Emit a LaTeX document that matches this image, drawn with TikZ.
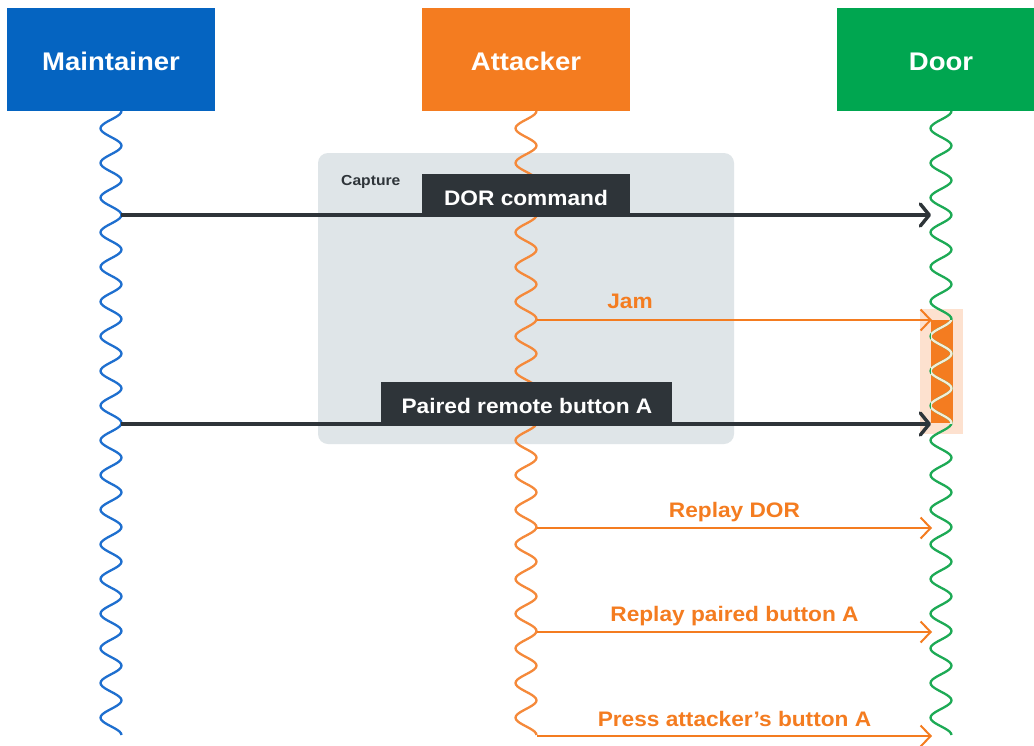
\documentclass[tikz,border=0pt]{standalone}
\usepackage{fontspec}
\setmainfont{Liberation Sans}[FakeStretch=1.08]
\usetikzlibrary{arrows.meta}
\definecolor{mblue}{HTML}{0564C1}
\definecolor{aorange}{HTML}{F47C20}
\definecolor{dgreen}{HTML}{00A650}
\definecolor{wblue}{HTML}{1E6FCF}
\definecolor{worange}{HTML}{F5893A}
\definecolor{wgreen}{HTML}{1DAA55}
\definecolor{capgray}{HTML}{DFE5E8}
\definecolor{darkc}{HTML}{2E3439}
\definecolor{peach}{HTML}{FDE1CF}
\definecolor{cream}{HTML}{F3EEDA}
\newcommand{\lifewave}[1]{plot[variable=\t, domain=111:735, samples=361, smooth] ({#1+10.5*cos((\t-111)*10.3846)},\t)}
\tikzset{
  hdrbox/.style={draw=none, minimum width=208pt, minimum height=103pt, inner sep=0pt},
  hdrtext/.style={text=white, font=\fontsize{25.5}{30}\selectfont\bfseries, inner sep=0pt, anchor=base},
  lifeline/.style={line width=2.3pt},
  tabbox/.style={fill=darkc, draw=none, inner sep=0pt, anchor=south},
  tabtext/.style={text=white, font=\fontsize{21}{25}\selectfont\bfseries, inner sep=0pt, anchor=base},
  lbltext/.style={text=aorange, font=\fontsize{21}{25}\selectfont\bfseries, inner sep=0pt, anchor=base},
  darkarrow/.style={draw=darkc, line width=3.4pt, -{Straight Barb[length=9pt, width=22pt, round]}},
  orangearrow/.style={draw=aorange, line width=2pt, -{Straight Barb[length=10pt, width=21pt]}},
}
\begin{document}
\begin{tikzpicture}[x=1pt, y=-1pt]
\useasboundingbox (0,0) rectangle (1034,745);
\fill[white] (0,0) rectangle (1034,745);
% capture region
\node[fill=capgray, rounded corners=10pt, minimum width=416pt, minimum height=291pt, inner sep=0pt] (capture) at (526,298.5) {};
\node[text=darkc, font=\fontsize{14.5}{17}\selectfont\bfseries, inner sep=0pt, anchor=base west] (captxt) at (341,185) {Capture};
% jam highlight
\node[fill=peach, minimum width=43pt, minimum height=125pt, inner sep=0pt] (jamhalo) at (941.5,371.5) {};
\node[fill=aorange, minimum width=22pt, minimum height=103pt, inner sep=0pt] (jambar) at (942,371.5) {};
% headers
\node[hdrbox, fill=mblue] (maint) at (111,59.5) {};
\node[hdrtext] (mainttxt) at (111,70) {Maintainer};
\node[hdrbox, fill=aorange] (att) at (526,59.5) {};
\node[hdrtext] (atttxt) at (526,70) {Attacker};
\node[hdrbox, fill=dgreen] (door) at (941,59.5) {};
\node[hdrtext] (doortxt) at (941,70) {Door};
% lifelines
\draw[lifeline, wblue] \lifewave{111};
\draw[lifeline, worange] \lifewave{526};
\draw[lifeline, wgreen] \lifewave{941};
\begin{scope}
\clip (931,320) rectangle (953,423);
\draw[lifeline, cream] \lifewave{941};
\end{scope}
% anchor points on lifelines
\coordinate (m1) at (121,215);
\coordinate (m3) at (121,424);
\coordinate (a2) at (537,320);
\coordinate (a4) at (537,528);
\coordinate (a5) at (537,632);
\coordinate (a6) at (537,736);
\coordinate (d1) at (931,215);
\coordinate (d2) at (932,320);
\coordinate (d3) at (931,424);
\coordinate (d4) at (932,528);
\coordinate (d5) at (932,632);
\coordinate (d6) at (932,736);
% tab labels
\node[tabbox, minimum width=208pt, minimum height=41pt] (dorbox) at (526,215) {};
\node[tabtext] (dortxt) at (526,205) {DOR command};
\node[tabbox, minimum width=291pt, minimum height=41pt] (pairbox) at (526.5,423) {};
\node[tabtext] (pairtxt) at (527,413) {Paired remote button A};
% messages
\draw[darkarrow] (m1) -- (d1);
\draw[orangearrow] (a2) -- (d2);
\node[lbltext] (jamtxt) at (630,308) {Jam};
\draw[darkarrow] (m3) -- (d3);
\draw[orangearrow] (a4) -- (d4);
\node[lbltext] (r1txt) at (734.5,517) {Replay DOR};
\draw[orangearrow] (a5) -- (d5);
\node[lbltext] (r2txt) at (734.5,621) {Replay paired button A};
\draw[orangearrow] (a6) -- (d6);
\node[lbltext] (r3txt) at (734.5,726) {Press attacker’s button A};
\end{tikzpicture}
\end{document}
